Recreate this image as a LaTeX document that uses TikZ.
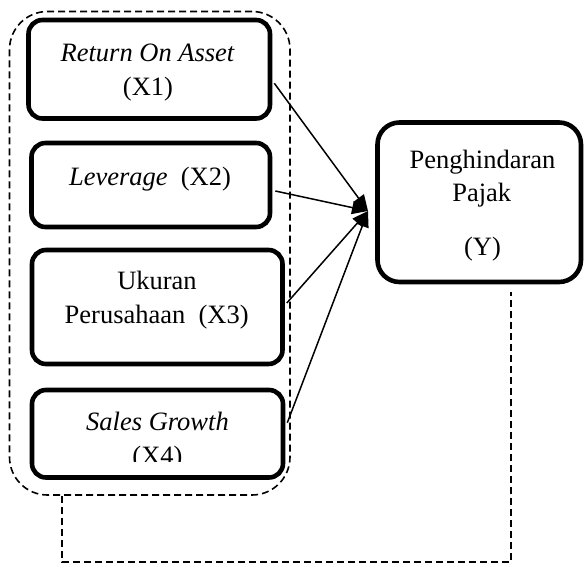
\documentclass[tikz,border=0pt]{standalone}
\usepackage{fontspec}
\setmainfont{Liberation Serif}
\usetikzlibrary{arrows.meta,calc}
\begin{document}
\begin{tikzpicture}[x=1pt,y=-1pt,
  varbox/.style={draw,line width=4.6pt,rounded corners=14pt,inner sep=0pt},
  groupbox/.style={draw,line width=1.6pt,dash pattern=on 7pt off 4pt,rounded corners=38pt,inner sep=0pt},
  lbl/.style={anchor=base,inner sep=0pt,font=\fontsize{26.5}{32}\selectfont},
  link/.style={line width=1.5pt,-{Triangle[length=16pt,width=13pt]}},
  feedback/.style={line width=1.6pt,dash pattern=on 7pt off 4pt}]
\useasboundingbox (0,0) rectangle (585,564);
% group and boxes
\node[groupbox,minimum width=280.5pt,minimum height=483.5pt] (outer) at (149.75,253.25) {};
\node[varbox,minimum width=241.5pt,minimum height=98.5pt] (x1) at (149.25,69.25) {};
\node[varbox,minimum width=238.5pt,minimum height=84pt] (x2) at (150.75,185) {};
\node[varbox,minimum width=250.5pt,minimum height=114pt] (x3) at (157.25,307) {};
\node[varbox,minimum width=251pt,minimum height=87.5pt] (x4) at (157.5,433.75) {};
\node[varbox,rounded corners=22pt,minimum width=203.5pt,minimum height=159.5pt] (y) at (479.25,202.25) {};
% labels
\node[lbl] (t1a) at (147.5,62) {\itshape Return On Asset};
\node[lbl] (t1b) at (148,96) {(X1)};
\node[lbl] (t2) at (150,185) {\textit{Leverage}\ \ (X2)};
\node[lbl] (t3a) at (157,289) {Ukuran};
\node[lbl] (t3b) at (156.7,323) {Perusahaan\ \ (X3)};
\node[lbl] (t4a) at (157.5,430) {\itshape Sales Growth};
\begin{scope}
  \clip (0,0) rectangle (585,461.7);
  \node[lbl] (t4b) at (157.5,464) {(X4)};
\end{scope}
\node[lbl] (tya) at (482.5,168) {Penghindaran};
\node[lbl] (tyb) at (481.7,201) {Pajak};
\node[lbl] (tyc) at (482.5,255) {(Y)};
% arrows
\coordinate (tip) at (368,211);
\draw[link] ($(x1.east)+(2,14)$) -- (tip);
\draw[link] ($(x2.east)+(3,6)$) -- (tip);
\draw[link] ($(x3.east)+(2,-4)$) -- (tip);
\draw[link] ($(x4.east)+(2,-11)$) -- (tip);
% feedback dashed line
\coordinate (fbL) at (62,562);
\coordinate (fbR) at (511,562);
\draw[feedback] (outer.south -| fbL) -- (fbL) -- (fbR) -- ($(y.south -| fbR)+(0,8)$);
\end{tikzpicture}
\end{document}
